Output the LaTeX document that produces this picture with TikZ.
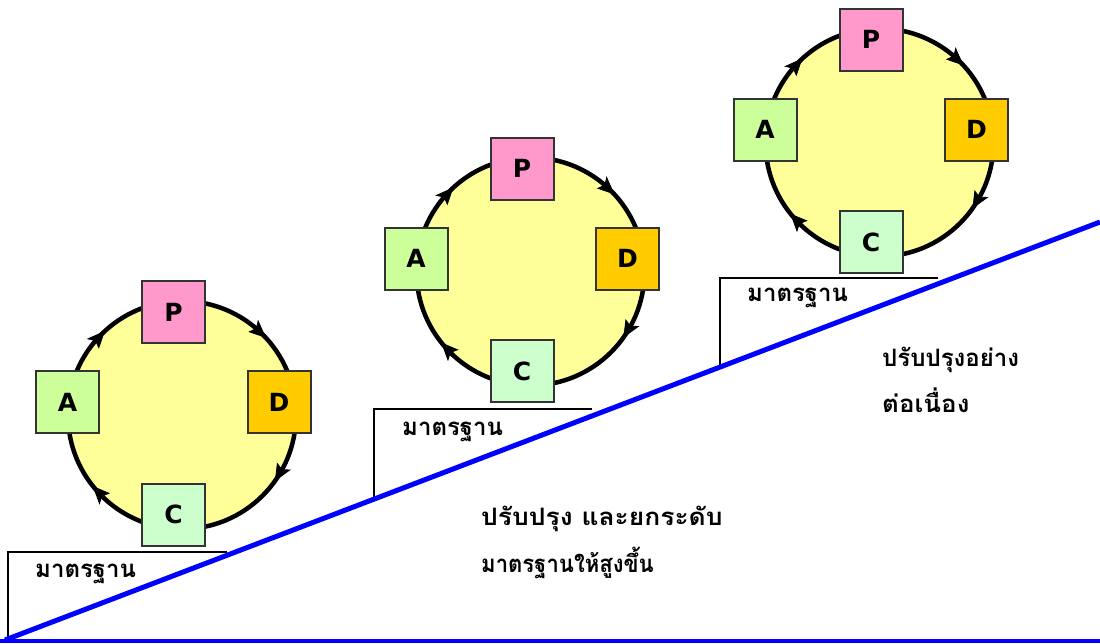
\documentclass[tikz,border=0pt]{standalone}
\usepackage{fontspec}
\setmainfont{DejaVu Sans}
\newfontfamily\thaifont[Script=Thai]{Loma}
\definecolor{ringfill}{HTML}{FFFF99}
\definecolor{pfill}{HTML}{FF99CC}
\definecolor{dfill}{HTML}{FFCC00}
\definecolor{afill}{HTML}{CCFF99}
\definecolor{cfill}{HTML}{CCFFCC}
\definecolor{boxline}{HTML}{333333}
\definecolor{stepblue}{HTML}{0000FF}
\begin{document}
\begin{tikzpicture}[x=1pt,y=-1pt,
  pdcabox/.style={draw=boxline, line width=2pt, minimum width=63pt, minimum height=62pt, inner sep=0pt, font=\fontsize{25}{25}\selectfont\bfseries},
  ring/.style={circle, draw=black, line width=4.5pt, fill=ringfill, minimum size=228pt, inner sep=0pt},
  arrowhead/.style={fill=black, draw=black, line width=0.8pt, line join=miter},
  stdline/.style={draw=black, line width=1.4pt},
  thaitext/.style={anchor=base west, inner sep=0pt, font=\thaifont\fontsize{24}{24}\selectfont\bfseries},
  blueline/.style={draw=stepblue, line width=5pt}
]
\useasboundingbox (0,0) rectangle (1100,643);

\foreach \px/\py/\n in {173.5/312/1, 522/168.5/2, 871/39.5/3}{
  \node[ring] (ring\n) at (\px+8.5,\py+103) {};
  \foreach \a in {227,317,35,141}{
    \fill[arrowhead] ([shift={(\a:114)}]ring\n.center)
      -- ([shift={(\a-8:121)}]ring\n.center)
      -- ([shift={(\a-6.3:114)}]ring\n.center)
      -- ([shift={(\a-8:107)}]ring\n.center) -- cycle;
  }
  \node[pdcabox, fill=pfill] (P\n) at (\px,\py) {P};
  \node[pdcabox, fill=afill] (A\n) at (\px-106,\py+90) {A};
  \node[pdcabox, fill=dfill] (D\n) at (\px+105.5,\py+90) {D};
  \node[pdcabox, fill=cfill] (C\n) at (\px,\py+202.5) {C};
}

% standard steps
\coordinate (s1b) at (8,640);  \coordinate (s1t) at (8,552);  \coordinate (s1e) at (227,552);
\coordinate (s2b) at (374,498); \coordinate (s2t) at (374,409); \coordinate (s2e) at (592,409);
\coordinate (s3b) at (720,366); \coordinate (s3t) at (720,278); \coordinate (s3e) at (938,278);
\draw[stdline] (s1b) -- (s1t) -- (s1e);
\draw[stdline] (s2b) -- (s2t) -- (s2e);
\draw[stdline] (s3b) -- (s3t) -- (s3e);

\node[thaitext] (std1) at (35,577) {มาตรฐาน};
\node[thaitext] (std2) at (402,435) {มาตรฐาน};
\node[thaitext] (std3) at (747,301.5) {มาตรฐาน};

% blue lines
\coordinate (origin) at (5,640);
\coordinate (diagend) at (1100,222);
\coordinate (basestart) at (0,641);
\coordinate (baseend) at (1100,641);
\draw[blueline] (origin) -- (diagend);
\draw[draw=stepblue, line width=4pt] (basestart) -- (baseend);

% texts
\node[thaitext] (imp1) at (481,525) {\scalebox{1.1}[1]{ปรับปรุง และยกระดับ}};
\node[thaitext] (imp2) at (481,572) {\scalebox{0.92}[1]{มาตรฐานให้สูงขึ้น}};
\node[thaitext] (cont1) at (882,366) {ปรับปรุงอย่าง};
\node[thaitext] (cont2) at (882,412) {\scalebox{1.08}[1]{ต่อเนื่อง}};
\end{tikzpicture}
\end{document}
